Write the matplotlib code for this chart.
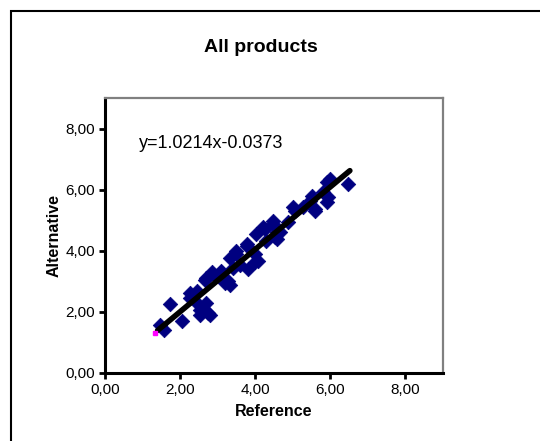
import matplotlib
matplotlib.use("Agg")
import matplotlib.pyplot as plt
from matplotlib.patches import Rectangle
from matplotlib.ticker import FuncFormatter, MultipleLocator

plt.rcParams['font.family'] = ['Liberation Sans', 'DejaVu Sans']

# Measured product scores: reference method vs alternative method
reference = [1.46, 1.57, 1.73, 2.04, 2.26, 2.44, 2.53, 2.70, 2.75, 2.70,
             2.93, 3.10, 3.28, 3.32, 3.50, 3.41, 3.59, 3.77, 3.99, 3.99,
             4.03, 4.26, 4.47, 4.52, 4.65, 4.87, 5.05, 5.27, 5.45, 5.59,
             5.80, 5.93, 5.98, 6.46,
             2.26, 2.44, 2.66, 2.61, 2.53, 2.80, 3.10, 3.77, 3.50, 3.32,
             2.84, 4.57, 4.07, 3.80, 3.19, 5.90, 5.50, 5.00, 4.47, 4.20,
             5.90, 5.59, 4.57, 4.30]
alternative = [1.58, 1.41, 2.27, 1.69, 2.63, 2.30, 2.07, 2.30, 1.97, 3.12,
               3.17, 3.33, 3.00, 2.89, 3.88, 3.45, 3.55, 4.15, 3.88, 3.62,
               4.54, 4.70, 4.87, 4.44, 4.60, 4.93, 5.31, 5.43, 5.64, 5.37,
               5.92, 5.76, 6.35, 6.18,
               2.47, 2.67, 3.06, 2.14, 1.91, 1.90, 3.29, 4.21, 3.99, 3.78,
               3.29, 4.38, 3.66, 3.39, 2.96, 6.25, 5.80, 5.43, 4.98, 4.77,
               5.59, 5.31, 4.61, 4.32]

slope = 1.0214
intercept = -0.0373
fit_x = [1.40, 6.52]
fit_y = [slope * v + intercept for v in fit_x]

fig = plt.figure(figsize=(5.4, 4.41), dpi=100)

# chart frame
fig.patches.append(Rectangle((11 / 540, -0.05), 1.2, 1 - 11 / 441 + 0.05,
                             transform=fig.transFigure, fill=False,
                             edgecolor='black', linewidth=1.5))

ax = fig.add_axes([105 / 540, 1 - 373 / 441, (443 - 105) / 540, (373 - 98) / 441])
ax.scatter(reference, alternative, marker='D', s=55, color='#000080',
           edgecolors='#000080', linewidths=0.5, zorder=3)
ax.plot(fit_x, fit_y, color='black', linewidth=4, solid_capstyle='round', zorder=4)
ax.plot([1.33], [1.32], marker='s', markersize=3, color='#FF00FF', zorder=5)

ax.set_xlim(0, 9)
ax.set_ylim(0, 9)
ax.xaxis.set_major_locator(MultipleLocator(2))
ax.yaxis.set_major_locator(MultipleLocator(2))
fmt = FuncFormatter(lambda v, p: f"{v:.2f}".replace('.', ','))
ax.xaxis.set_major_formatter(fmt)
ax.yaxis.set_major_formatter(fmt)
ax.tick_params(direction='out', length=4, width=2, labelsize=11, pad=3)

for side in ('left', 'bottom'):
    ax.spines[side].set_color('black')
    ax.spines[side].set_linewidth(2.2)
for side in ('top', 'right'):
    ax.spines[side].set_color('#808080')
    ax.spines[side].set_linewidth(1.6)

ax.set_xlabel('Reference', fontsize=11.5, fontweight='bold', labelpad=5)
ax.set_ylabel('Alternative', fontsize=11.5, fontweight='bold', labelpad=3)

ax.text(0.9, 7.52, f"y={slope}x{intercept}", fontsize=13, va='center', ha='left')

fig.text(261 / 540, 1 - 47 / 441, 'All products', fontsize=14, fontweight='bold',
         ha='center', va='center')

fig.savefig('out.png', dpi=100)
